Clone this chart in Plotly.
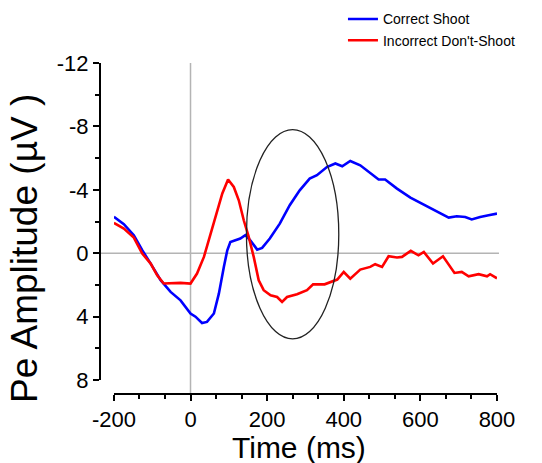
import plotly.graph_objects as go

# ---- data ----
time_correct = [-200, -174, -148, -126, -104, -78, -52, -26, 0, 13, 30, 43, 61, 74, 87, 96, 104, 117,
                130, 143, 156, 174, 187, 207, 233, 259, 285, 311, 330, 356, 378, 396, 417, 443, 469,
                491, 508, 539, 574, 595, 617, 643, 674, 695, 717, 734, 756, 778, 800]
amp_correct = [-2.3, -1.83, -1.14, -0.19, 0.65, 1.7, 2.44, 2.97, 3.8, 4.0, 4.4, 4.33, 3.8, 2.55, 0.86, -0.19,
               -0.71, -0.82, -0.93, -1.14, -0.82, -0.23, -0.34, -0.93, -1.87, -3.03, -3.97, -4.71, -4.92,
               -5.44, -5.66, -5.49, -5.82, -5.55, -5.03, -4.65, -4.65, -4.08, -3.51, -3.24, -2.97, -2.6,
               -2.25, -2.33, -2.29, -2.13, -2.29, -2.4, -2.5]

time_incorrect = [-200, -174, -148, -126, -104, -87, -70, -43, -26, 0, 17, 35, 48, 65, 83, 98, 113, 126,
                  139, 152, 165, 178, 191, 209, 226, 239, 252, 278, 304, 320, 350, 383, 400, 417, 443,
                  469, 482, 500, 517, 539, 552, 575, 595, 609, 633, 659, 689, 708, 726, 752, 774, 782, 800]
amp_incorrect = [-1.91, -1.56, -0.99, 0.02, 0.65, 1.39, 1.91, 1.87, 1.87, 1.91, 1.28, 0.23, -0.82, -2.29,
                 -3.77, -4.65, -4.18, -3.34, -2.08, -1.03, 0.23, 1.7, 2.33, 2.65, 2.76, 3.07, 2.76, 2.59,
                 2.33, 1.96, 1.96, 1.66, 1.18, 1.6, 1.03, 0.86, 0.69, 0.86, 0.19, 0.27, 0.23, -0.15, 0.13,
                 -0.08, 0.65, 0.19, 1.24, 1.18, 1.45, 1.32, 1.45, 1.32, 1.58]

series_names = ["Correct Shoot", "Incorrect Don't-Shoot"]
x_ticks = [-200, 0, 200, 400, 600, 800]
y_ticks = [-12, -8, -4, 0, 4, 8]
ellipse_x = [146, 387]
ellipse_y = [-7.8, 5.4]

FONT = "Liberation Sans, Arial, Helvetica, sans-serif"

fig = go.Figure()
fig.add_trace(go.Scatter(x=time_correct, y=amp_correct, mode="lines", name=series_names[0],
                         line=dict(color="#0000ff", width=2.6)))
fig.add_trace(go.Scatter(x=time_incorrect, y=amp_incorrect, mode="lines", name=series_names[1],
                         line=dict(color="#ff0000", width=2.6)))

# reference lines
fig.add_shape(type="line", xref="x", yref="paper", x0=0, x1=0, y0=0, y1=1,
              line=dict(color="#b4b4b4", width=1.5), layer="below")
fig.add_shape(type="line", xref="paper", yref="y", x0=0, x1=1.005, y0=0, y1=0,
              line=dict(color="#b4b4b4", width=1.5), layer="below")
# ellipse
fig.add_shape(type="circle", xref="x", yref="y", x0=ellipse_x[0], x1=ellipse_x[1],
              y0=ellipse_y[0], y1=ellipse_y[1], line=dict(color="#222222", width=1.3))

fig.update_layout(
    width=542, height=463,
    margin=dict(l=100, r=45, t=63, b=69, autoexpand=False),
    paper_bgcolor="white", plot_bgcolor="white",
    font=dict(family=FONT, color="black"),
    showlegend=True,
    legend=dict(x=0.612, y=1.18, xanchor="left", yanchor="top",
                font=dict(size=14, family=FONT), itemwidth=30,
                bgcolor="rgba(0,0,0,0)", tracegroupgap=0),
    xaxis=dict(range=[-200, 800], domain=[0.035, 1], anchor="free", position=0,
               showgrid=False, zeroline=False, showline=True, linecolor="black", linewidth=2,
               ticks="outside", ticklen=6, tickwidth=2, tickcolor="black",
               tickvals=x_ticks, ticktext=[str(v) for v in x_ticks],
               tickfont=dict(size=22, family=FONT),
               minor=dict(tick0=-200, dtick=200 / 3, ticks="outside", ticklen=4, tickwidth=2,
                          tickcolor="black", showgrid=False)),
    yaxis=dict(range=[8, -12], domain=[0.042, 1], anchor="free", position=0,
               showgrid=False, zeroline=False, showline=True, linecolor="black", linewidth=2,
               ticks="outside", ticklen=6, tickwidth=2, tickcolor="black",
               tickvals=y_ticks, ticktext=[str(v) for v in y_ticks],
               tickfont=dict(size=22, family=FONT),
               minor=dict(tick0=0, dtick=2, ticks="outside", ticklen=4, tickwidth=2,
                          tickcolor="black", showgrid=False)),
)

# axis titles
fig.add_annotation(text="Time (ms)", xref="paper", yref="paper", x=(299 - 100) / 397,
                   y=-(447 - 394) / 331, xanchor="center", yanchor="middle", showarrow=False,
                   font=dict(size=30, family=FONT))
fig.add_annotation(text="Pe Amplitude (µV )", xref="paper", yref="paper", x=-(100 - 24) / 397,
                   y=(394 - 249) / 331, xanchor="center", yanchor="middle", showarrow=False,
                   textangle=-90, font=dict(size=37, family=FONT))

fig.write_html("out.html", config={"displayModeBar": False},
               post_script="document.body.style.margin='0';document.body.style.overflow='hidden';")
